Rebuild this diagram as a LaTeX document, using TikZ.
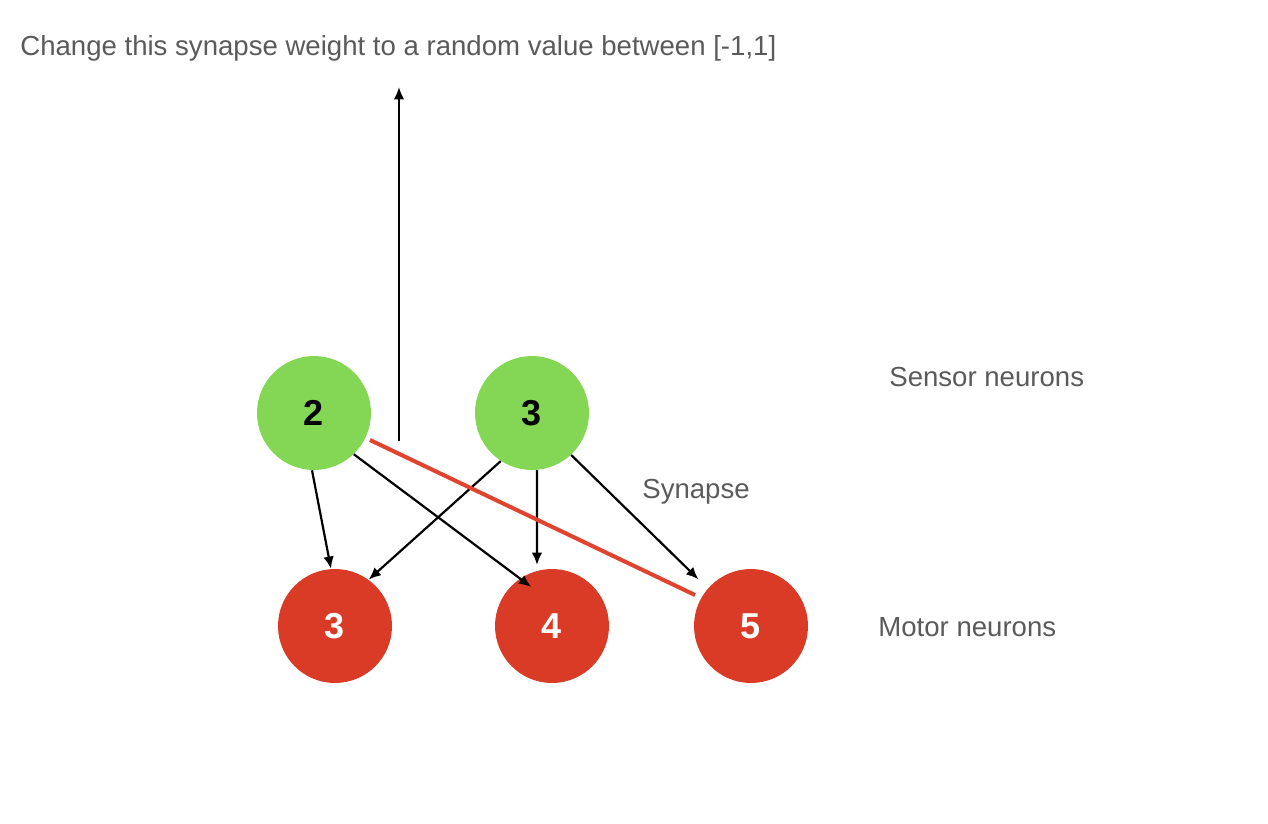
\documentclass[tikz,border=0pt]{standalone}
\usepackage{fontspec}
\setmainfont{Liberation Sans}
\usetikzlibrary{arrows.meta,positioning}
\definecolor{sensorgreen}{HTML}{84D655}
\definecolor{motorred}{HTML}{D93B26}
\definecolor{notegray}{HTML}{5A5A5A}
\definecolor{cutred}{HTML}{E0442F}
\tikzstyle{sensor} = [circle,fill=sensorgreen,inner sep=0pt,minimum size=2.28cm,font=\fontsize{20.5}{24}\selectfont\bfseries]
\tikzstyle{motor} = [circle,fill=motorred,text=white,inner sep=0pt,minimum size=2.28cm,font=\fontsize{20.5}{24}\selectfont\bfseries]
\tikzstyle{annot} = [text=notegray,inner sep=0pt,anchor=west,font=\fontsize{15.7}{18}\selectfont]
\tikzstyle{syn} = [line width=1.25pt,-{Latex[length=7pt,width=6pt]}]
\tikzset{>=latex}

\begin{document}
\begin{tikzpicture}[x=0.02cm,y=-0.02cm]
    \useasboundingbox (0,0) rectangle (1268,824);

    \node [sensor] (s2) at (314,413) {2};
    \node [sensor] (s3) at (532,413) {3};
    \node [motor] (m3) at (335,626) {3};
    \node [motor] (m4) at (552,626) {4};
    \node [motor] (m5) at (751,626) {5};

    \node [annot] (change) at (20,48) {Change this synapse weight to a random value between [-1,1]};
    \node [annot] (sensors) at (889,377) {Sensor neurons};
    \node [annot] (synapse) at (642,492) {Synapse};
    \node [annot] (motors) at (878,627) {Motor neurons};

    \draw [syn] (s2.-92) -- (m3.94);
    \draw [syn,shorten >=-0.28cm] (s2.-46) -- (m4.124);
    \draw [syn] (s3.-123) -- (m3.54);
    \draw [syn] (s3.-85) -- (537,565);
    \draw [syn,shorten >=0.26cm] (s3.-47) -- (m5.139);

    % mutated synapse
    \coordinate (cutA) at (370,440);
    \coordinate (cutB) at (695,595);
    \draw [cutred,line width=2.3pt] (cutA) -- (cutB);

    \coordinate (up) at (399,441);
    \coordinate (top) at (399,87);
    \draw [syn] (up) -- (top);
\end{tikzpicture}
\end{document}
